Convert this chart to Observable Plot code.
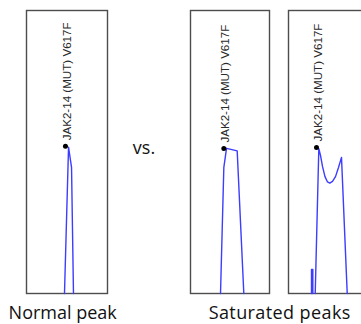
<!DOCTYPE html>
<html>
<head>
<meta charset="utf-8">
<script src="https://cdn.jsdelivr.net/npm/d3@7"></script>
<script src="https://cdn.jsdelivr.net/npm/@observablehq/plot@0.6"></script>
<style>
  html, body { margin: 0; padding: 0; background: #fff; }
  #root { position: relative; width: 361px; height: 324px; overflow: hidden; background: #fff; }
  .panel { position: absolute; }
  .cap { position: absolute; font-family: "Open Sans", sans-serif; font-size: 18px; line-height: 18px; color: #111; white-space: nowrap; transform: translateX(-50%); }
</style>
</head>
<body>
<div id="root"></div>
<script>
// Peak label
const peakLabel = "JAK2-14 (MUT) V617F";
const captions = ["Normal peak", "vs.", "Saturated peaks"];

// Normal peak trace (time units 0-100 across panel, intensity 0-100)
const normalX = [46.9, 51.9, 55.6, 58.0];
const normalY = [0, 51.7, 44.6, 0];
const normalDot = [48.1, 52.0];

// Saturated peak A (flat top)
const satAX = [38.0, 42.2, 45.6, 59.1, 67.5];
const satAY = [0, 44.6, 51.3, 50.4, 0];
const satADot = [42.2, 51.2];

// Saturated peak B (split top)
const satBX = [33.4, 37.9, 40.0, 42.5, 45.6, 48.75, 51.6, 55.0, 58.75, 62.5, 66.25, 73.4];
const satBY = [0, 51.2, 48.8, 44.9, 41.3, 39.4, 39.0, 39.6, 41.3, 44.5, 48.1, 0];
const satBDot = [35.0, 51.6];
const spikeX = [28.75, 28.75, 30.4, 30.4];
const spikeY = [0, 8.5, 8.5, 0];

const root = document.getElementById("root");

function toRows(xs, ys) { return xs.map((x, i) => ({x, y: ys[i]})); }

function panel(left, frameW, traces, dot) {
  const marks = [Plot.frame({stroke: "#4d4d4d", strokeWidth: 1.4})];
  for (const t of traces) {
    marks.push(Plot.line(t, {x: "x", y: "y", stroke: "#3d3dff", strokeWidth: 1.4}));
  }
  const d = [{x: dot[0], y: dot[1]}];
  marks.push(Plot.dot(d, {x: "x", y: "y", r: 2.5, fill: "#000", stroke: "none"}));
  marks.push(Plot.text(d, {x: "x", y: "y", text: () => peakLabel, rotate: -90, textAnchor: "start",
    dy: -6, dx: 1.5, fontSize: 11.6, fill: "#2a2a2a", fontFamily: "Liberation Sans, Arial, sans-serif"}));
  const svg = Plot.plot({
    width: frameW + 2, height: 285, margin: 1,
    x: {domain: [0, 100], axis: null},
    y: {domain: [0, 100], axis: null},
    marks
  });
  svg.classList.add("panel");
  svg.style.left = (left - 1) + "px";
  svg.style.top = "9px";
  svg.style.overflow = "visible";
  root.appendChild(svg);
}

panel(26, 81, [toRows(normalX, normalY)], normalDot);
panel(190, 79, [toRows(satAX, satAY)], satADot);
panel(288, 80, [toRows(satBX, satBY), toRows(spikeX, spikeY)], satBDot);

function caption(text, cx, top, spacing) {
  const el = document.createElement("div");
  el.className = "cap";
  el.textContent = text;
  el.style.left = cx + "px";
  el.style.top = top + "px";
  if (spacing) el.style.letterSpacing = spacing + "px";
  root.appendChild(el);
}
caption(captions[0], 62.7, 302.7);
caption(captions[1], 144, 138);
caption(captions[2], 279.7, 302.7, 0.4);
</script>
</body>
</html>
